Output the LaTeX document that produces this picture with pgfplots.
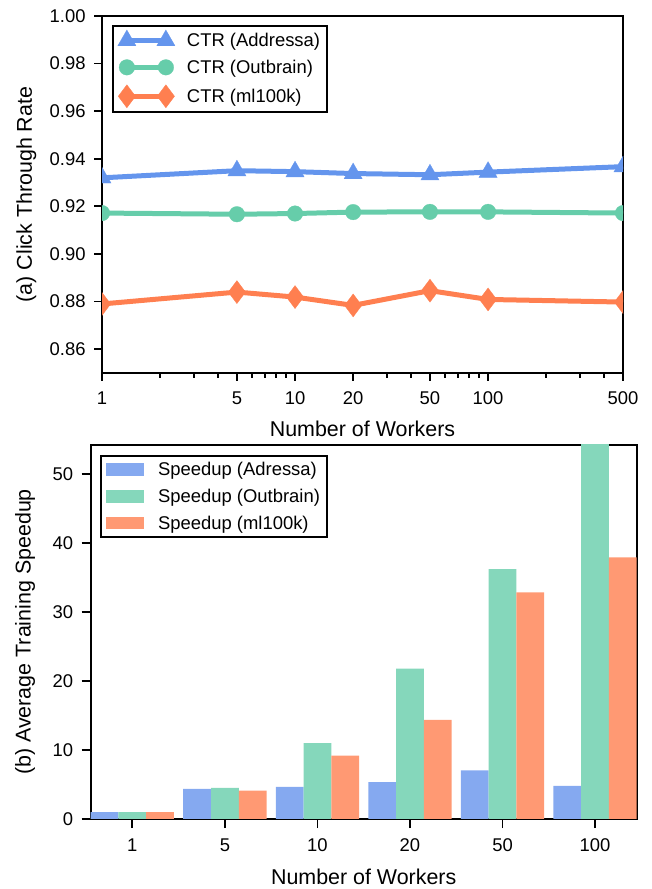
\documentclass[border=0pt]{standalone}
\usepackage{pgfplots}
\pgfplotsset{compat=1.18}
\usepackage{fontspec}
\setmainfont{Liberation Sans}
\definecolor{cblue}{RGB}{100,149,237}
\definecolor{cgreen}{RGB}{102,205,170}
\definecolor{corange}{RGB}{255,127,80}
\definecolor{bblue}{RGB}{133,169,240}
\definecolor{bgreen}{RGB}{133,215,187}
\definecolor{borange}{RGB}{255,153,115}
\pgfplotsset{
  mystyle/.style={
    scale only axis,
    axis line style={line width=2.2bp},
    every tick/.style={black, line width=1.8bp},
    tick align=outside,
    major tick length=8bp,
    minor tick length=5bp,
    xtick pos=left, ytick pos=left,
    tick label style={font=\fontsize{18.5}{18.5}\selectfont},
    xticklabel style={yshift=-7bp},
    yticklabel style={xshift=-5bp},
    label style={font=\fontsize{21.5}{23}\selectfont},
    /pgf/number format/assume math mode=true,
    legend cell align=left,
  }
}
\begin{document}
\begin{tikzpicture}
\path[use as bounding box] (0,0) rectangle (652bp,889bp);
% ---------- top: CTR ----------
\begin{axis}[mystyle,
  at={(102bp,516bp)}, anchor=south west,
  width=521bp, height=357bp,
  xmode=log, xmin=1, xmax=500, ymin=0.85, ymax=1.0,
  xtick={1,5,10,20,50,100,500},
  xticklabels={1,5,10,20,50,100,500},
  minor xtick={2,3,4,6,7,8,9,30,40,60,70,80,90,200,300,400},
  ytick={0.86,0.88,0.90,0.92,0.94,0.96,0.98,1.00},
  yticklabel style={/pgf/number format/.cd,fixed,fixed zerofill,precision=2},
  xlabel={Number of Workers},
  ylabel={(a) Click Through Rate},
  xlabel style={at={(axis description cs:0.5,-0.157)}, anchor=center},
  ylabel style={at={(axis description cs:-0.145,0.5)}, anchor=center},
  clip marker paths=true,
  legend image code/.code={\draw[#1] plot coordinates {(0bp,0bp) (39bp,0bp)};},
  legend style={at={(0.0186,0.975)}, anchor=north west, draw=black, line width=2.2bp,
    font=\fontsize{18.5}{18.5}\selectfont, inner xsep=5bp, inner ysep=4bp, row sep=8bp,
    /tikz/every odd column/.append style={column sep=10bp}},
]
\addplot[cblue, line width=5bp, mark=triangle*, mark size=10.5bp, mark options={line width=0.3bp}] coordinates {
(1,0.9320) (5,0.9350) (10,0.9346) (20,0.9338) (50,0.9333) (100,0.9344) (500,0.9367)};
\addlegendentry{CTR (Addressa)}
\addplot[cgreen, line width=5bp, mark=*, mark size=7.8bp, mark options={line width=0.3bp}] coordinates {
(1,0.9172) (5,0.9167) (10,0.9170) (20,0.9176) (50,0.9177) (100,0.9177) (500,0.9172)};
\addlegendentry{CTR (Outbrain)}
\addplot[corange, line width=5bp, mark=diamond*, mark size=11.5bp, mark options={line width=0.3bp}] coordinates {
(1,0.8790) (5,0.8840) (10,0.8819) (20,0.8784) (50,0.8846) (100,0.8809) (500,0.8798)};
\addlegendentry{CTR (ml100k)}
\end{axis}
% ---------- bottom: speedup ----------
\begin{axis}[mystyle,
  at={(90.7bp,70bp)}, anchor=south west,
  width=546bp, height=374bp,
  xmin=-0.45, xmax=5.45, ymin=0, ymax=54.2,
  ybar=0pt, bar width=0.3,
  major tick length=9bp,
  xtick={0,1,2,3,4,5},
  xticklabels={1,5,10,20,50,100},
  ytick={0,10,20,30,40,50},
  xlabel={Number of Workers},
  ylabel={(b) Average Training Speedup},
  xlabel style={at={(axis description cs:0.5,-0.155)}, anchor=center},
  ylabel style={at={(axis description cs:-0.12,0.5)}, anchor=center},
  legend image code/.code={\fill[#1] (0bp,-6.2bp) rectangle (38bp,6.2bp);},
  legend style={at={(0.017,0.973)}, anchor=north west, draw=black, line width=2.2bp,
    font=\fontsize{18.5}{18.5}\selectfont, inner xsep=5bp, inner ysep=4bp, row sep=8bp,
    /tikz/every odd column/.append style={column sep=12bp}},
]
\addplot[fill=bblue, draw=none] coordinates {(0,1.0) (1,4.35) (2,4.65) (3,5.36) (4,7.06) (5,4.8)};
\addlegendentry{Speedup (Adressa)}
\addplot[fill=bgreen, draw=none] coordinates {(0,1.0) (1,4.5) (2,11.0) (3,21.8) (4,36.2) (5,60)};
\addlegendentry{Speedup (Outbrain)}
\addplot[fill=borange, draw=none] coordinates {(0,1.0) (1,4.1) (2,9.2) (3,14.35) (4,32.86) (5,37.9)};
\addlegendentry{Speedup (ml100k)}
\end{axis}
\end{tikzpicture}
\end{document}
